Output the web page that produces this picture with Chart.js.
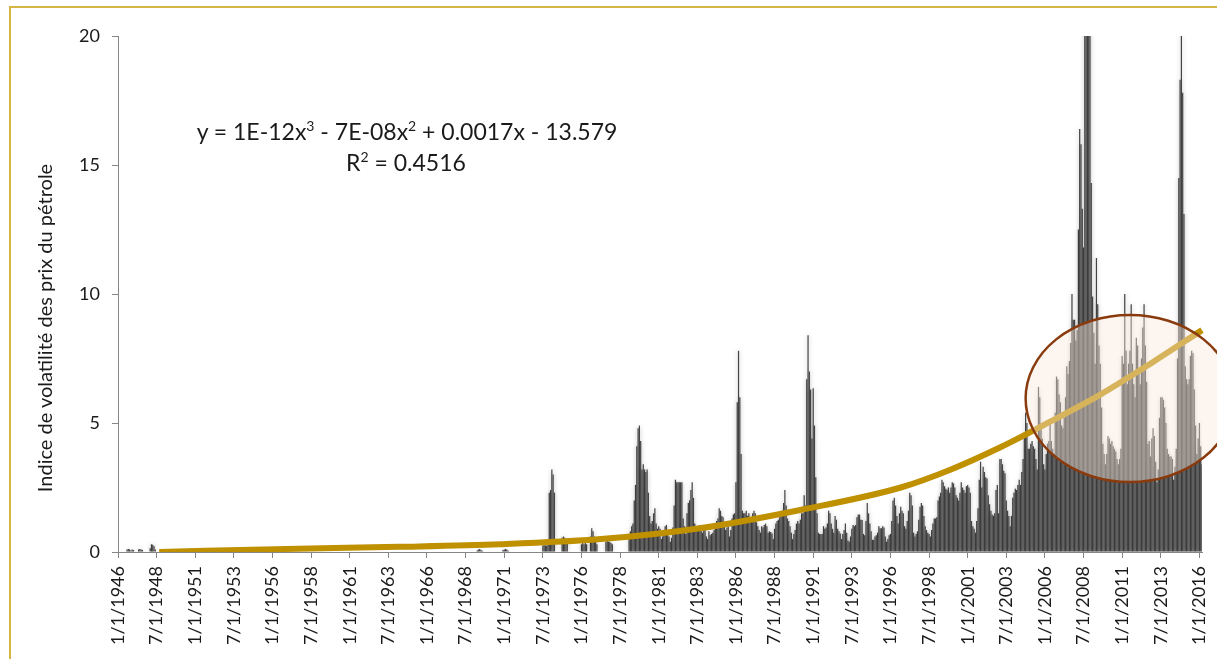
<!DOCTYPE html>
<html>
<head>
<meta charset="utf-8">
<script src="https://cdn.jsdelivr.net/npm/chart.js@4.4.0/dist/chart.umd.min.js"></script>
<style>
    html, body { margin: 0; padding: 0; background: #fff; overflow: hidden; }
    #wrap { position: relative; width: 1217px; height: 659px; }
    #frame { position: absolute; left: 9px; top: 6px; width: 1240px; height: 700px; border: 2px solid #D6B546; box-sizing: border-box; pointer-events: none; }
    .eq { position: absolute; font-family: Lato, sans-serif; font-size: 23px; color: #1a1a1a; white-space: nowrap; transform: translateX(-50%); }
    .eq sup { font-size: 14px; vertical-align: 9px; line-height: 0; }
    #ytitle { position: absolute; left: 44px; top: 328px; font-family: Lato, sans-serif; font-size: 20px; color: #1a1a1a; white-space: nowrap; transform: translate(-50%, -50%) rotate(-90deg); }
</style>
</head>
<body>
<div id="wrap">
    <canvas id="volChart" width="1217" height="659"></canvas>
    <div id="frame"></div>
    <div id="ytitle">Indice de volatilité des prix du pétrole</div>
    <div class="eq" style="left:407px; top:117px">y = 1E-12x<sup>3</sup> - 7E-08x<sup>2</sup> + 0.0017x - 13.579</div>
    <div class="eq" style="left:406px; top:148px">R<sup>2</sup> = 0.4516</div>
</div>
<script>
// monthly oil price volatility index, Jan 1946 .. Mar 2016 (one line per year)
const volatility = [
    0,0,0,0,0,0,0,0.1,0.12,0.1,0.06,0.1,                 // 1946
    0.08,0,0,0,0.1,0.12,0.1,0.08,0,0,0,0,                 // 1947
    0,0.15,0.3,0.28,0.22,0.1,0,0,0,0,0,0,                 // 1948
    0,0,0,0,0,0,0,0,0,0,0,0,                              // 1949
    0,0,0,0,0,0,0,0,0,0,0,0,                              // 1950
    0,0,0,0,0,0,0,0,0,0,0,0,                              // 1951
    0,0,0,0,0,0,0,0,0,0,0,0,                              // 1952
    0,0,0,0,0,0,0,0,0,0,0,0,                              // 1953
    0,0,0,0,0,0,0,0,0,0,0,0,                              // 1954
    0,0,0,0,0,0,0,0,0,0,0,0,                              // 1955
    0,0,0,0,0,0,0,0,0,0,0,0,                              // 1956
    0,0,0,0,0,0,0,0,0,0,0,0,                              // 1957
    0,0,0,0,0,0,0,0,0,0,0,0,                              // 1958
    0,0,0,0,0,0,0,0,0,0,0,0,                              // 1959
    0,0,0,0,0,0,0,0,0,0,0,0,                              // 1960
    0,0,0,0,0,0,0,0,0,0,0,0,                              // 1961
    0,0,0,0,0,0,0,0,0,0,0,0,                              // 1962
    0,0,0,0,0,0,0,0,0,0,0,0,                              // 1963
    0,0,0,0,0,0,0,0,0,0,0,0,                              // 1964
    0,0,0,0,0,0,0,0,0,0,0,0,                              // 1965
    0,0,0,0,0,0,0,0,0,0,0,0,                              // 1966
    0,0,0,0,0,0,0,0,0.02,0,0,0,                           // 1967
    0,0,0,0,0,0,0,0,0,0,0,0,                              // 1968
    0,0,0,0.06,0.1,0.12,0.08,0.05,0,0,0,0,                // 1969
    0,0,0,0,0,0,0,0,0,0,0,0.08,                           // 1970
    0.1,0.12,0.1,0.06,0,0,0,0,0,0,0,0,                    // 1971
    0,0,0,0,0,0,0,0,0,0,0,0,                              // 1972
    0,0,0,0,0,0,0.25,0.27,0.25,0.25,0.28,2.3,             // 1973
    2.4,3.2,3.0,2.3,0,0,0,0,0,0.55,0.6,0.55,              // 1974
    0.5,0.4,0,0,0,0,0,0,0,0,0,0,                          // 1975
    0.3,0.35,0.3,0.35,0.3,0,0,0.6,0.92,0.8,0.6,0.4,       // 1976
    0.3,0,0,0,0,0,0,0.4,0.45,0.4,0.4,0.35,                // 1977
    0.3,0,0,0,0,0,0,0,0,0,0,0,                            // 1978
    0,0.6,0.8,1.0,1.1,2.0,2.6,4.1,4.8,4.9,4.3,3.2,        // 1979
    3.4,3.2,3.1,3.2,2.3,1.4,1.1,1.2,1.5,1.7,1.1,0.9,      // 1980
    1.0,0.9,0.5,0.6,0.8,1.0,1.05,0.8,0.6,0.4,0.55,0.95,   // 1981
    1.8,2.8,2.7,2.7,2.7,2.7,2.7,1.3,1.0,0.7,1.5,1.9,      // 1982
    2.0,2.4,2.7,2.1,1.1,0.9,0.95,1.0,1.05,1.0,0.75,0.95,  // 1983
    1.0,0.6,0.5,0.8,0.65,0.7,0.75,0.85,1.1,1.2,1.3,1.7,   // 1984
    1.6,1.4,1.35,1.05,0.85,0.95,1.0,0.6,0.85,1.3,1.45,1.5,// 1985
    2.7,5.8,7.8,6.0,3.8,1.6,1.5,1.5,1.6,1.4,1.5,1.3,      // 1986
    1.3,1.5,1.6,1.5,1.15,1.0,0.85,0.75,1.0,0.95,1.05,1.1, // 1987
    1.0,0.75,0.8,0.78,0.72,0.5,0.9,1.1,1.2,1.25,1.35,1.5, // 1988
    1.6,1.9,2.4,1.8,1.3,1.2,1.0,0.75,0.5,0.7,0.85,1.1,    // 1989
    1.2,1.1,1.25,1.5,1.5,2.2,1.8,6.7,8.4,7.0,6.3,4.4,     // 1990
    6.35,4.9,2.9,1.5,0.75,0.7,0.7,0.7,1.0,0.9,0.95,1.1,   // 1991
    1.6,1.5,1.1,0.9,0.75,1.4,1.25,0.9,0.8,0.72,0.5,0.7,   // 1992
    0.85,1.1,0.75,0.45,0.4,0.6,0.9,1.05,1.0,1.05,1.35,1.45, // 1993
    1.45,1.25,1.24,0.7,0.65,1.2,1.9,1.5,1.1,0.8,0.47,0.47,  // 1994
    0.6,0.65,0.75,1.0,0.92,0.92,1.0,0.95,0.6,0.4,0.5,0.65,  // 1995
    0.7,1.2,2.0,2.1,1.8,1.4,1.1,1.5,1.75,1.6,1.5,1.0,     // 1996
    0.9,1.2,1.6,2.3,2.2,1.8,0.75,0.6,0.7,0.8,1.25,1.75,   // 1997
    1.9,1.8,1.4,1.0,0.85,0.75,0.7,0.6,0.85,1.1,1.3,1.3,   // 1998
    1.35,2.0,2.15,2.3,2.8,2.7,2.55,2.45,2.4,2.5,2.3,2.5,  // 1999
    2.7,2.66,2.5,2.2,2.1,2.0,2.3,2.7,2.5,2.4,2.3,2.55,    // 2000
    2.6,2.5,2.3,1.2,1.0,0.9,0.75,1.2,1.7,2.8,3.5,2.5,     // 2001
    3.3,3.1,2.9,2.85,2.2,1.85,1.6,1.45,1.4,1.5,2.4,2.6,   // 2002
    1.5,3.6,3.6,3.4,3.15,3.05,2.0,1.6,1.4,1.0,1.4,2.1,    // 2003
    2.3,2.45,2.4,2.6,2.8,2.6,3.1,3.6,4.5,5.4,5.0,4.0,     // 2004
    4.0,4.2,4.3,4.1,4.0,3.6,3.2,6.4,6.0,5.0,4.4,3.4,      // 2005
    3.2,3.8,4.2,4.3,5.0,4.3,4.0,3.8,5.4,6.8,6.7,6.1,      // 2006
    5.8,4.9,4.8,5.2,6.0,7.2,6.9,7.4,8.1,10.0,9.0,9.0,     // 2007
    8.2,8.6,12.5,16.4,15.8,13.3,11.8,24,30,28,25,22,      // 2008
    14.3,9.9,8.5,7.3,11.4,9.6,8.0,7.3,5.6,4.2,3.8,3.4,    // 2009
    3.8,4.5,4.4,4.2,4.3,4.1,4.0,3.9,3.6,3.4,3.6,4.0,      // 2010
    7.6,7.3,10.0,7.8,6.5,7.3,7.8,9.6,7.3,6.5,6.0,8.3,     // 2011
    8.0,7.0,6.5,7.5,8.7,9.6,8.0,6.6,4.2,4.3,3.7,4.4,      // 2012
    4.8,4.5,3.5,2.7,3.2,5.2,6.0,6.0,5.9,5.6,5.0,4.0,      // 2013
    3.8,3.7,3.7,3.6,2.8,3.3,4.0,7.5,14.5,18.3,21,17.8,    // 2014
    13.1,7.2,6.7,6.5,6.7,7.6,7.8,7.7,6.3,4.9,3.8,4.4,     // 2015
    5.0,4.1,3.4                                           // 2016
];

// polynomial trend line
const trendDates  = ['9/1/1948', '9/1/1957', '3/1/1964', '10/1/1970', '4/1/1977', '9/1/1983', '3/1/1990',
                     '9/1/1996', '12/1/1999', '2/1/2003', '5/1/2006', '8/1/2009', '11/1/2012', '3/1/2016'];
const trendValues = [0, 0.13, 0.2, 0.3, 0.5, 0.92, 1.63, 2.5, 3.2, 4.05, 5.05, 6.1, 7.3, 8.6];

const tickLabels = ['1/1/1946', '7/1/1948', '1/1/1951', '7/1/1953', '1/1/1956', '7/1/1958', '1/1/1961',
    '7/1/1963', '1/1/1966', '7/1/1968', '1/1/1971', '7/1/1973', '1/1/1976', '7/1/1978', '1/1/1981',
    '7/1/1983', '1/1/1986', '7/1/1988', '1/1/1991', '7/1/1993', '1/1/1996', '7/1/1998', '1/1/2001',
    '7/1/2003', '1/1/2006', '7/1/2008', '1/1/2011', '7/1/2013', '1/1/2016'];

// category labels: one per month
const months = [];
for (let i = 0; i < volatility.length; i++) {
    months.push(`${(i % 12) + 1}/1/${1946 + Math.floor(i / 12)}`);
}

// highlighted zone (circled on the original)
const zoneCenter = '7/1/2011', zoneHalfMonths = 81, zoneMid = 5.95, zoneHalfValue = 3.24;

const barShadow = {
    id: 'barShadow',
    beforeDatasetDraw(chart, args) {
        if (args.index !== 1) return;
        chart.ctx.save();
        chart.ctx.shadowColor = 'rgba(0,0,0,0.28)';
        chart.ctx.shadowBlur = 5;
    },
    afterDatasetDraw(chart, args) {
        if (args.index !== 1) return;
        chart.ctx.restore();
    }
};

const zoneEllipse = {
    id: 'zoneEllipse',
    afterDatasetsDraw(chart) {
        const { ctx, scales: { x, y } } = chart;
        const ci = months.indexOf(zoneCenter);
        const cx = x.getPixelForValue(ci);
        const rx = x.getPixelForValue(ci + zoneHalfMonths) - cx;
        const cy = y.getPixelForValue(zoneMid);
        const ry = y.getPixelForValue(zoneMid - zoneHalfValue) - cy;
        ctx.save();
        ctx.beginPath();
        ctx.ellipse(cx, cy, rx, ry, 0, 0, Math.PI * 2);
        ctx.fillStyle = 'rgba(249,232,220,0.42)';
        ctx.fill();
        ctx.lineWidth = 2.5;
        ctx.strokeStyle = '#8A3B0E';
        ctx.stroke();
        ctx.restore();
    }
};

const axisGray = '#868686';

new Chart(document.getElementById('volChart'), {
    type: 'bar',
    data: {
        labels: months,
        datasets: [
            {
                type: 'line',
                data: trendDates.map((d, i) => ({ x: d, y: trendValues[i] })),
                borderColor: '#BF9000',
                borderWidth: 6,
                pointRadius: 0,
                cubicInterpolationMode: 'monotone',
                order: 0
            },
            {
                type: 'bar',
                data: volatility,
                backgroundColor: '#444444',
                barPercentage: 0.95,
                categoryPercentage: 1,
                order: 1
            }
        ]
    },
    options: {
        responsive: false,
        devicePixelRatio: 1,
        animation: false,
        layout: { padding: { left: 0, top: 36, right: 15, bottom: 0 } },
        plugins: { legend: { display: false }, tooltip: { enabled: false } },
        scales: {
            x: {
                offset: false,
                grid: {
                    offset: false,
                    drawOnChartArea: false,
                    tickLength: 6,
                    color: axisGray,
                    tickColor: c => tickLabels.includes(months[c.index]) ? axisGray : 'rgba(0,0,0,0)'
                },
                border: { color: axisGray },
                ticks: {
                    autoSkip: false,
                    maxRotation: 90,
                    minRotation: 90,
                    padding: 8,
                    color: '#1a1a1a',
                    font: { family: 'Lato', size: 18 },
                    callback: (v, i) => tickLabels.includes(months[i]) ? months[i] : ''
                },
                afterFit: s => { s.height = 107; s.paddingLeft = 0; s.paddingRight = 0; }
            },
            y: {
                min: 0,
                max: 20,
                grid: { drawOnChartArea: false, tickLength: 6, color: axisGray },
                border: { color: axisGray },
                ticks: {
                    stepSize: 5,
                    padding: 12,
                    color: '#1a1a1a',
                    font: { family: 'Lato', size: 18 }
                },
                afterFit: s => { s.width = 118; }
            }
        }
    },
    plugins: [barShadow, zoneEllipse]
});
</script>
</body>
</html>
